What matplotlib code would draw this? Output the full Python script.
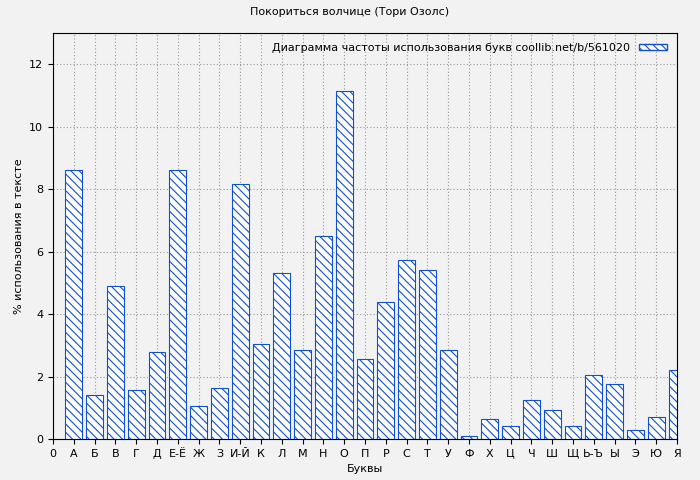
import matplotlib
matplotlib.use("Agg")
import matplotlib.pyplot as plt
from matplotlib.patches import Patch

letters = ["А", "Б", "В", "Г", "Д", "Е-Ё", "Ж", "З", "И-Й", "К", "Л", "М", "Н", "О", "П",
           "Р", "С", "Т", "У", "Ф", "Х", "Ц", "Ч", "Ш", "Щ", "Ь-Ъ", "Ы", "Э", "Ю", "Я"]
values = [8.61, 1.41, 4.90, 1.57, 2.78, 8.61, 1.06, 1.63, 8.16, 3.04, 5.31, 2.85, 6.50, 11.14, 2.56,
          4.38, 5.73, 5.41, 2.85, 0.10, 0.64, 0.42, 1.25, 0.93, 0.42, 2.05, 1.76, 0.29, 0.70, 2.21]

bg = "#f2f2f2"
blue = "#1050d0"
plt.rcParams['hatch.color'] = blue
plt.rcParams['hatch.linewidth'] = 0.8

fig = plt.figure(figsize=(7, 4.8), dpi=100, facecolor=bg)
ax = fig.add_axes([53/700, 1-439/480, (677-53)/700, (439-33)/480], facecolor=bg)

xs = list(range(1, len(letters) + 1))
ax.bar(xs, values, width=0.8, facecolor="white", edgecolor=blue, hatch="\\\\\\\\", linewidth=0.8)

ax.set_xlim(0, 30)
ax.set_ylim(0, 13)
ax.set_xticks([0] + xs)
ax.set_xticklabels(["0"] + letters, fontsize=8)
ax.set_yticks(range(0, 13, 2))
ax.tick_params(axis='y', labelsize=8)
ax.grid(True, color="#999999", linestyle=(0, (1, 2)), linewidth=0.8)
ax.set_axisbelow(True)
for s in ax.spines.values():
    s.set_color("black")

ax.set_xlabel("Буквы", fontsize=8)
ax.set_ylabel("% использования в тексте", fontsize=8)
fig.suptitle("Покориться волчице (Тори Озолс)", fontsize=8, y=0.985)

leg_patch = Patch(facecolor="white", edgecolor=blue, hatch="\\\\\\\\",
                  label="Диаграмма частоты использования букв coollib.net/b/561020")
ax.legend(handles=[leg_patch], loc="upper right", fontsize=8, frameon=False,
          markerfirst=False, handlelength=2.5, handleheight=0.5)

fig.savefig("out.png", dpi=100, facecolor=bg)
